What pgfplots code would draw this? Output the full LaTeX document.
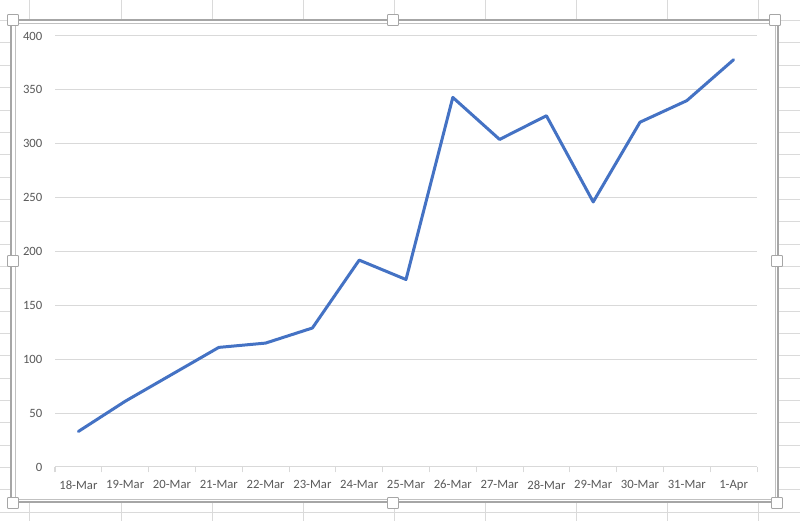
\documentclass[border=0pt]{standalone}
\usepackage{pgfplots}
\pgfplotsset{compat=1.18}
\usepackage{fontspec}
\setmainfont{Carlito}
\definecolor{xlblue}{HTML}{4472C4}
\definecolor{xlgrid}{HTML}{D9D9D9}
\definecolor{xltext}{HTML}{595959}
\definecolor{sheet}{HTML}{DADADA}
\definecolor{frame}{HTML}{A6A6A6}
\begin{document}
\begin{tikzpicture}
\useasboundingbox (-41.25pt,-40.5pt) rectangle (558.75pt,350.25pt);
\begin{scope}[x=0.75pt,y=-0.75pt,shift={(-55,-467)}]
  % spreadsheet grid
  \foreach \c in {30,121,212,303,394,485,576,667,758}
    \draw[sheet,line width=0.75pt] (\c,0) -- (\c,521);
  \foreach \k in {-1,...,21}
    \draw[sheet,line width=0.75pt] (0,43+22.35*\k) -- (800,43+22.35*\k);
  % chart area
  \fill[white] (12,21) rectangle (777,501);
  \draw[frame,line width=0.9pt] (11,20) rectangle (778,502);
  \draw[frame!70,line width=0.6pt] (15,23) rectangle (775,499);
  \foreach \p in {(13,20),(393,20),(775,20),(13,261),(777,261),(13,503),(393,503),(777,503)}
    \draw[frame,fill=white,line width=0.6pt,rounded corners=0.6pt] \p ++(-5.5,-5.5) rectangle ++(11,11);
\end{scope}
\begin{axis}[
  at={(0,0)}, anchor=south west,
  scale only axis,
  width=526.5pt, height=323.25pt,
  xmin=-0.5, xmax=14.5, ymin=0, ymax=400,
  axis line style={draw=none},
  xtick pos=bottom, ytick pos=left,
  xtick={0,...,14},
  xticklabels={18-Mar,19-Mar,20-Mar,21-Mar,22-Mar,23-Mar,24-Mar,25-Mar,26-Mar,27-Mar,28-Mar,29-Mar,30-Mar,31-Mar,1-Apr},
  ytick={0,50,...,400},
  major tick length=0pt,
  ymajorgrids,
  major grid style={xlgrid,line width=0.75pt},
  extra x ticks={-0.5,0.5,...,14.5},
  extra x tick labels={},
  extra x tick style={major tick length=4pt, tick align=outside, xtick pos=bottom, major tick style={xlgrid,line width=0.75pt}, grid=none},
  tick label style={font=\fontsize{9.5}{11}\selectfont, text=xltext},
  /pgf/number format/assume math mode=true,
  xticklabel style={yshift=-6.5pt},
  yticklabel style={xshift=-6pt},
  clip=false,
]
\addplot[xlblue, line width=2.25pt, line join=round, line cap=round] coordinates {
(0,33)(1,61)(2,86)(3,111)(4,115)(5,129)(6,192)(7,174)(8,343)(9,304)(10,326)(11,246)(12,320)(13,340)(14,378)
};
\end{axis}
\end{tikzpicture}
\end{document}
